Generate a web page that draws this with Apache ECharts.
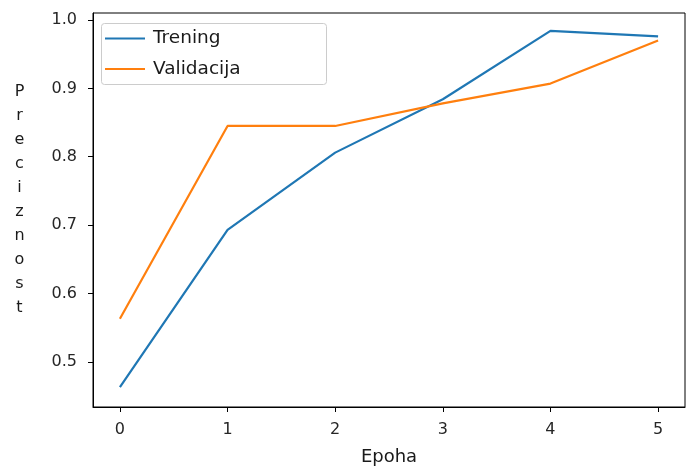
<!DOCTYPE html>
<html>
<head>
<meta charset="utf-8">
<script src="https://cdn.jsdelivr.net/npm/echarts@6/dist/echarts.min.js"></script>
<style>html,body{margin:0;padding:0;background:#fff}#c{width:686px;height:468px}</style>
</head>
<body>
<div id="c"></div>
<script>
const epochs = [0, 1, 2, 3, 4, 5];
const trening = [0.463, 0.693, 0.806, 0.884, 0.984, 0.976];
const validacija = [0.563, 0.845, 0.845, 0.878, 0.907, 0.970];
const xTicks = [0, 1, 2, 3, 4, 5];
const yTicks = [0.5, 0.6, 0.7, 0.8, 0.9, 1.0];
const xName = 'Epoha';
const yName = 'Preciznost';
const seriesNames = ['Trening', 'Validacija'];

const font = 'DejaVu Sans';
const chart = echarts.init(document.getElementById('c'), null, {renderer: 'canvas'});
chart.setOption({
  animation: false,
  backgroundColor: '#fff',
  grid: {left: 93, right: 1, top: 13, bottom: 61, show: true, borderColor: '#000', borderWidth: 1,
         backgroundColor: 'transparent', containLabel: false, outerBoundsMode: 'none'},
  legend: {
    orient: 'vertical', left: 105, top: 29, itemWidth: 40, itemHeight: 2, itemGap: 11.5,
    padding: 0, icon: 'rect',
    textStyle: {fontFamily: font, fontSize: 18.5, color: '#1a1a1a', padding: [0, 0, 0, 3]},
    data: seriesNames
  },
  graphic: [{
    type: 'rect', left: 101, top: 23, z: 1,
    shape: {width: 225, height: 61, r: 3},
    style: {fill: 'rgba(255,255,255,0.8)', stroke: '#cccccc', lineWidth: 1}
  }, {
    type: 'text', x: 19.5, y: 199.5, z: 5,
    style: {text: yName.split('').join('\n'), font: '16px "DejaVu Sans"', fill: '#1a1a1a',
            lineHeight: 24, align: 'center', verticalAlign: 'middle'}
  }],
  xAxis: {
    type: 'value', min: -0.25, max: 5.25,
    name: xName, nameLocation: 'middle', nameGap: 41,
    nameTextStyle: {fontFamily: font, fontSize: 18, color: '#1a1a1a'},
    axisLine: {show: true, onZero: false, lineStyle: {color: '#000', width: 1}},
    axisTick: {show: true, length: 5, lineStyle: {color: '#000'}, customValues: xTicks},
    axisLabel: {fontFamily: font, fontSize: 16, color: '#262626', margin: 15, customValues: xTicks, formatter: v => String(v)},
    splitLine: {show: false}
  },
  yAxis: {
    type: 'value', min: 0.434, max: 1.0102,
    axisLine: {show: true, onZero: false, lineStyle: {color: '#000', width: 1}},
    axisTick: {show: true, length: 5, lineStyle: {color: '#000'}, customValues: yTicks},
    axisLabel: {fontFamily: font, fontSize: 16, color: '#262626', margin: 16, customValues: yTicks, formatter: v => v.toFixed(1)},
    splitLine: {show: false}
  },
  series: [
    {name: seriesNames[0], type: 'line', symbol: 'none', color: '#1f77b4', lineStyle: {width: 2.2, color: '#1f77b4'},
     data: epochs.map((e, i) => [e, trening[i]])},
    {name: seriesNames[1], type: 'line', symbol: 'none', color: '#ff7f0e', lineStyle: {width: 2.2, color: '#ff7f0e'},
     data: epochs.map((e, i) => [e, validacija[i]])}
  ]
});
</script>
</body>
</html>
